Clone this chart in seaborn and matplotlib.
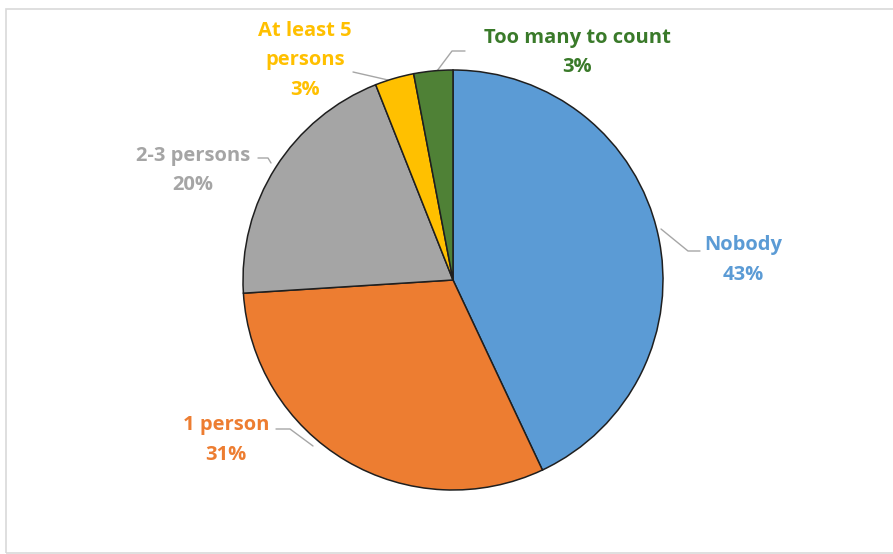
import matplotlib
matplotlib.use("Agg")
import matplotlib.pyplot as plt
import seaborn as sns
from matplotlib.patches import Rectangle

sns.set_theme(style="white")
plt.rcParams["font.family"] = ["Open Sans", "DejaVu Sans"]

categories = ["Nobody", "1 person", "2-3 persons", "At least 5 persons", "Too many to count"]
shares = [43, 31, 20, 3, 3]
label_lines = [["Nobody"], ["1 person"], ["2-3 persons"], ["At least 5", "persons"], ["Too many to count"]]

slice_colors = ["#5B9BD5", "#ED7D31", "#A5A5A5", "#FFC000", "#4F8136"]
text_colors = ["#5B9BD5", "#ED7D31", "#A5A5A5", "#FFC000", "#3A7A2A"]

W, H = 893, 554
fig = plt.figure(figsize=(W / 100, H / 100), dpi=100)
ax = fig.add_axes([0, 0, 1, 1])

# chart frame (right edge runs past the canvas)
ax.add_patch(Rectangle((6, 1.5), 905, 543.5, fill=False, edgecolor="#D9D9D9",
                       linewidth=1.2, clip_on=False))

cx, cy, r = 453, H - 280, 210
ax.pie(shares, colors=slice_colors, startangle=90, counterclock=False,
       center=(cx, cy), radius=r, frame=True,
       wedgeprops=dict(edgecolor="#1F1F1F", linewidth=1.1))
ax.set_xlim(0, W)
ax.set_ylim(0, H)
ax.set_aspect("equal")
ax.axis("off")

# label anchor (centre of first line) and leader polyline for each slice
label_pos = [(743, 245), (226, 425), (193, 156), (305, 31), (577, 38)]
leaders = [
    [(661, 229), (688, 251), (700, 251)],
    [(313, 446), (290, 429), (276, 429)],
    [(271, 163), (268, 158), (258, 158)],
    [(388, 80), (353, 72)],
    [(437, 71), (452, 51), (465, 51)],
]
line_gap = 29.5

for lines, val, (lx, ly), col, lead in zip(label_lines, shares, label_pos, text_colors, leaders):
    for i, t in enumerate(lines + [f"{val}%"]):
        ax.text(lx, H - (ly + i * line_gap), t, ha="center", va="center",
                color=col, fontsize=14.5, fontweight="bold")
    xs = [p[0] for p in lead]
    ys = [H - p[1] for p in lead]
    ax.plot(xs, ys, color="#A6A6A6", linewidth=1.0, zorder=0.5)

fig.savefig("out.png", dpi=100, facecolor="white")
